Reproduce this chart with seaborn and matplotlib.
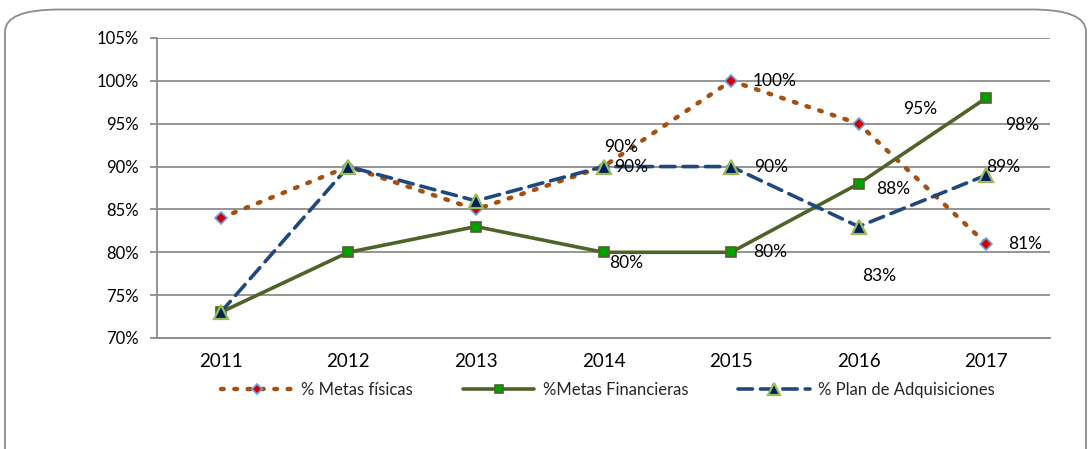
import matplotlib
matplotlib.use("Agg")
import matplotlib.pyplot as plt
from matplotlib.patches import FancyBboxPatch
from matplotlib.ticker import FixedLocator, FuncFormatter
import seaborn as sns
import pandas as pd

years = ["2011", "2012", "2013", "2014", "2015", "2016", "2017"]
metas_fisicas = [84, 90, 85, 90, 100, 95, 81]
metas_financieras = [73, 80, 83, 80, 80, 88, 98]
plan_adquisiciones = [73, 90, 86, 90, 90, 83, 89]
series_names = ["% Metas físicas", "%Metas Financieras", "% Plan de Adquisiciones"]

sns.set_theme(style="white")
plt.rcParams["font.family"] = ["Lato", "DejaVu Sans"]

pos = list(range(len(years)))
df = pd.DataFrame({
    "pos": pos * 3,
    "valor": metas_fisicas + metas_financieras + plan_adquisiciones,
    "serie": [series_names[0]] * 7 + [series_names[1]] * 7 + [series_names[2]] * 7,
})

fig = plt.figure(figsize=(10.91, 4.49), dpi=100)
ax = fig.add_axes([157 / 1091, 1 - 338 / 449, (1050 - 157) / 1091, 300 / 449])

# rounded frame around the chart
frame = FancyBboxPatch((5 / 1091, -0.2), 1081 / 1091, 1.19 - 5 / 449,
                       boxstyle="round,pad=0,rounding_size=0.05",
                       transform=fig.transFigure, facecolor="white",
                       edgecolor="#8c8c8c", linewidth=1.3, zorder=-10,
                       mutation_aspect=449 / 1091 * 2.4)
fig.patches.append(frame)

styles = {
    series_names[0]: dict(color="#A5500F", ls=(0, (0.6, 2.4)), lw=3.2,
                          marker="D", ms=6, mfc="#D00000", mec="#6FA0DC", mew=1.2),
    series_names[1]: dict(color="#4F6228", ls="-", lw=2.6,
                          marker="s", ms=7, mfc="#00A000", mec="#4F6228", mew=1.2),
    series_names[2]: dict(color="#1F497D", ls=(0, (4, 2.2)), lw=2.6,
                          marker="^", ms=10, mfc="#002060", mec="#9BBB59", mew=1.6),
}

for name in series_names:
    st = styles[name]
    sub = df[df["serie"] == name]
    sns.lineplot(data=sub, x="pos", y="valor", ax=ax, color=st["color"], linestyle=st["ls"],
                 linewidth=st["lw"], marker=st["marker"], markersize=st["ms"],
                 markerfacecolor=st["mfc"], markeredgecolor=st["mec"], markeredgewidth=st["mew"],
                 label=name, legend=False, zorder=3, dash_capstyle="round")

ax.set_xlim(-0.5, 6.5)
ax.set_ylim(70, 105)
ax.yaxis.set_major_locator(FixedLocator(range(70, 106, 5)))
ax.yaxis.set_major_formatter(FuncFormatter(lambda v, p: f"{v:.0f}%"))
ax.set_xticks(pos)
ax.set_xticklabels(years)
ax.xaxis.set_minor_locator(FixedLocator([p - 0.5 for p in pos] + [6.5]))
ax.tick_params(axis="x", which="major", length=0, pad=11, labelsize=13.5, colors="black")
ax.tick_params(axis="x", which="minor", length=6, width=1.3, color="#8c8c8c", direction="out")
ax.tick_params(axis="y", length=5, width=1.3, color="#8c8c8c", direction="out",
               labelsize=12, pad=8, left=True, colors="black")
ax.tick_params(axis="y", color="#8c8c8c")
ax.grid(axis="y", color="#8c8c8c", linewidth=1.3)
ax.set_axisbelow(True)
for s in ["top", "right"]:
    ax.spines[s].set_visible(False)
for s in ["left", "bottom"]:
    ax.spines[s].set_color("#8c8c8c")
    ax.spines[s].set_linewidth(1.3)
ax.set_xlabel("")
ax.set_ylabel("")

# value labels
lab_kw = dict(fontsize=12.5, color="black", zorder=5)
labels = [
    (3, metas_fisicas[3], 0.14, 2.3, "center"),
    (4, metas_fisicas[4], 0.17, 0, "left"),
    (5, metas_fisicas[5], 0.48, 1.7, "center"),
    (6, metas_fisicas[6], 0.17, 0, "left"),
    (3, metas_financieras[3], 0.18, -1.3, "center"),
    (4, metas_financieras[4], 0.17, 0, "left"),
    (5, metas_financieras[5], 0.27, -0.6, "center"),
    (6, metas_financieras[6], 0.28, -3.1, "center"),
    (3, plan_adquisiciones[3], 0.22, 0, "center"),
    (4, plan_adquisiciones[4], 0.18, 0, "left"),
    (5, plan_adquisiciones[5], 0.16, -5.8, "center"),
    (6, plan_adquisiciones[6], 0.13, 1.0, "center"),
]
for x, v, dx, dy, ha in labels:
    ax.text(x + dx, v + dy, f"{v}%", ha=ha, va="center", **lab_kw)

handles, texts = ax.get_legend_handles_labels()
leg = fig.legend(handles, texts, loc="center", bbox_to_anchor=(608 / 1091, 1 - 390 / 449),
                 ncol=3, frameon=False, fontsize=12, handlelength=4.3, columnspacing=3.0,
                 handletextpad=0.5, markerscale=0.8)

fig.savefig("out.png", dpi=100)
